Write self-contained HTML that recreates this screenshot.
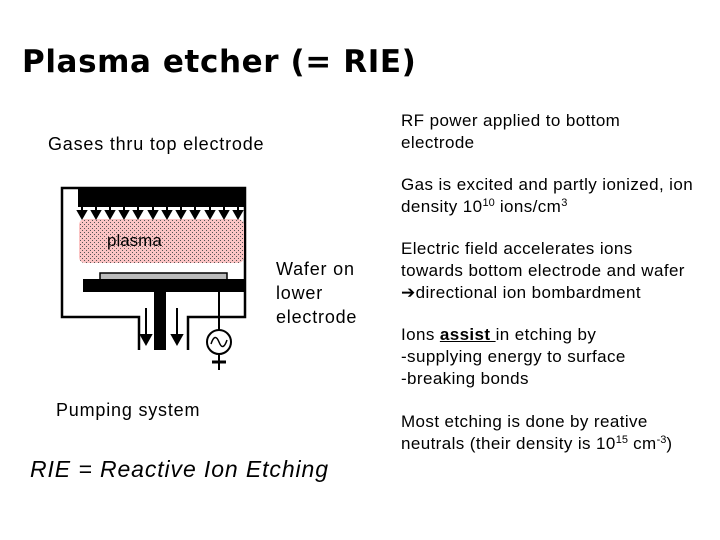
<!DOCTYPE html>
<html><head><meta charset="utf-8"><style>
body{margin:0;width:720px;height:540px;background:#fff;position:relative;overflow:hidden;font-family:"Liberation Sans",Arial,sans-serif;color:#000}
.t{position:absolute;font-size:17px;line-height:22px;white-space:nowrap;letter-spacing:0.4px}
.l{position:absolute;font-size:18px;white-space:nowrap;letter-spacing:0.8px}
sup{font-size:11px;vertical-align:6px;line-height:0;letter-spacing:0}
</style></head><body>
<div style="position:absolute;left:22px;top:44px;font-family:'DejaVu Sans',Verdana,sans-serif;font-size:31px;font-weight:bold;white-space:nowrap;letter-spacing:0.6px">Plasma etcher (= RIE)</div>
<div class="l" style="left:48px;top:134px">Gases thru top electrode</div>
<div class="t" style="left:401px;top:110px">RF power applied to bottom<br>electrode</div>
<div class="t" style="left:401px;top:174px">Gas is excited and partly ionized, ion<br>density 10<sup>10</sup> ions/cm<sup>3</sup></div>
<div class="t" style="left:401px;top:238px">Electric field accelerates ions<br>towards bottom electrode and wafer<br>&#10132;directional ion bombardment</div>
<div class="t" style="left:401px;top:324px">Ions <b><u>assist </u></b>in etching by<br>-supplying energy to surface<br>-breaking bonds</div>
<div class="t" style="left:401px;top:411px">Most etching is done by reative<br>neutrals (their density is 10<sup>15</sup> cm<sup>-3</sup>)</div>
<div class="l" style="left:276px;top:257px;line-height:24px">Wafer on<br>lower<br>electrode</div>
<div class="l" style="left:56px;top:400px">Pumping system</div>
<div class="l" style="left:30px;top:456px;font-size:23px;font-style:italic;letter-spacing:0.9px">RIE = Reactive Ion Etching</div>
<svg style="position:absolute;left:0;top:0" width="720" height="540">
<defs><pattern id="d" width="4" height="4" patternUnits="userSpaceOnUse"><rect x="0" y="0" width="1" height="1" fill="#555"/><rect x="2" y="2" width="1" height="1" fill="#555"/></pattern></defs>
<g fill="none" stroke="#000" stroke-width="2.5">
<polyline points="139,350 139,317 62,317 62,188 245,188 245,317 188,317 188,350"/>
</g>
<rect x="78" y="187" width="167" height="20" fill="#000"/>
<rect x="79" y="219" width="165" height="44" rx="6" fill="#fbc4c4"/>
<rect x="79" y="219" width="165" height="44" rx="6" fill="url(#d)"/>
<text x="107" y="246" font-family="Liberation Sans,Arial,sans-serif" font-size="17">plasma</text>
<rect x="100" y="273" width="127" height="7" fill="#bbb" stroke="#000" stroke-width="1.5"/>
<rect x="83" y="279" width="162" height="13" fill="#000"/>
<rect x="154" y="292" width="12" height="58" fill="#000"/>
<g stroke="#000" stroke-width="2" fill="#000">
<line x1="146" y1="308" x2="146" y2="338"/><polygon points="141,335 151,335 146,344"/>
<line x1="177" y1="308" x2="177" y2="338"/><polygon points="172,335 182,335 177,344"/>
<line x1="219" y1="292" x2="219" y2="330"/>
<circle cx="219" cy="342" r="12" fill="#fff"/>
<path d="M211,344 Q215,332 219,342 Q223,352 227,340" fill="none" stroke-width="1.5"/>
<line x1="219" y1="354" x2="219" y2="370"/>
<line x1="212" y1="362" x2="226" y2="362" stroke-width="3"/>
</g>
<g stroke="#000" stroke-width="2" fill="#000">
<line x1="82" y1="207" x2="82" y2="213"/><polygon points="78,211 86,211 82,218"/>
<line x1="96" y1="207" x2="96" y2="213"/><polygon points="92,211 100,211 96,218"/>
<line x1="110" y1="207" x2="110" y2="213"/><polygon points="106,211 114,211 110,218"/>
<line x1="124" y1="207" x2="124" y2="213"/><polygon points="120,211 128,211 124,218"/>
<line x1="138" y1="207" x2="138" y2="213"/><polygon points="134,211 142,211 138,218"/>
<line x1="153" y1="207" x2="153" y2="213"/><polygon points="149,211 157,211 153,218"/>
<line x1="167" y1="207" x2="167" y2="213"/><polygon points="163,211 171,211 167,218"/>
<line x1="181" y1="207" x2="181" y2="213"/><polygon points="177,211 185,211 181,218"/>
<line x1="195" y1="207" x2="195" y2="213"/><polygon points="191,211 199,211 195,218"/>
<line x1="210" y1="207" x2="210" y2="213"/><polygon points="206,211 214,211 210,218"/>
<line x1="224" y1="207" x2="224" y2="213"/><polygon points="220,211 228,211 224,218"/>
<line x1="238" y1="207" x2="238" y2="213"/><polygon points="234,211 242,211 238,218"/>
</g>
</svg>
</body></html>
